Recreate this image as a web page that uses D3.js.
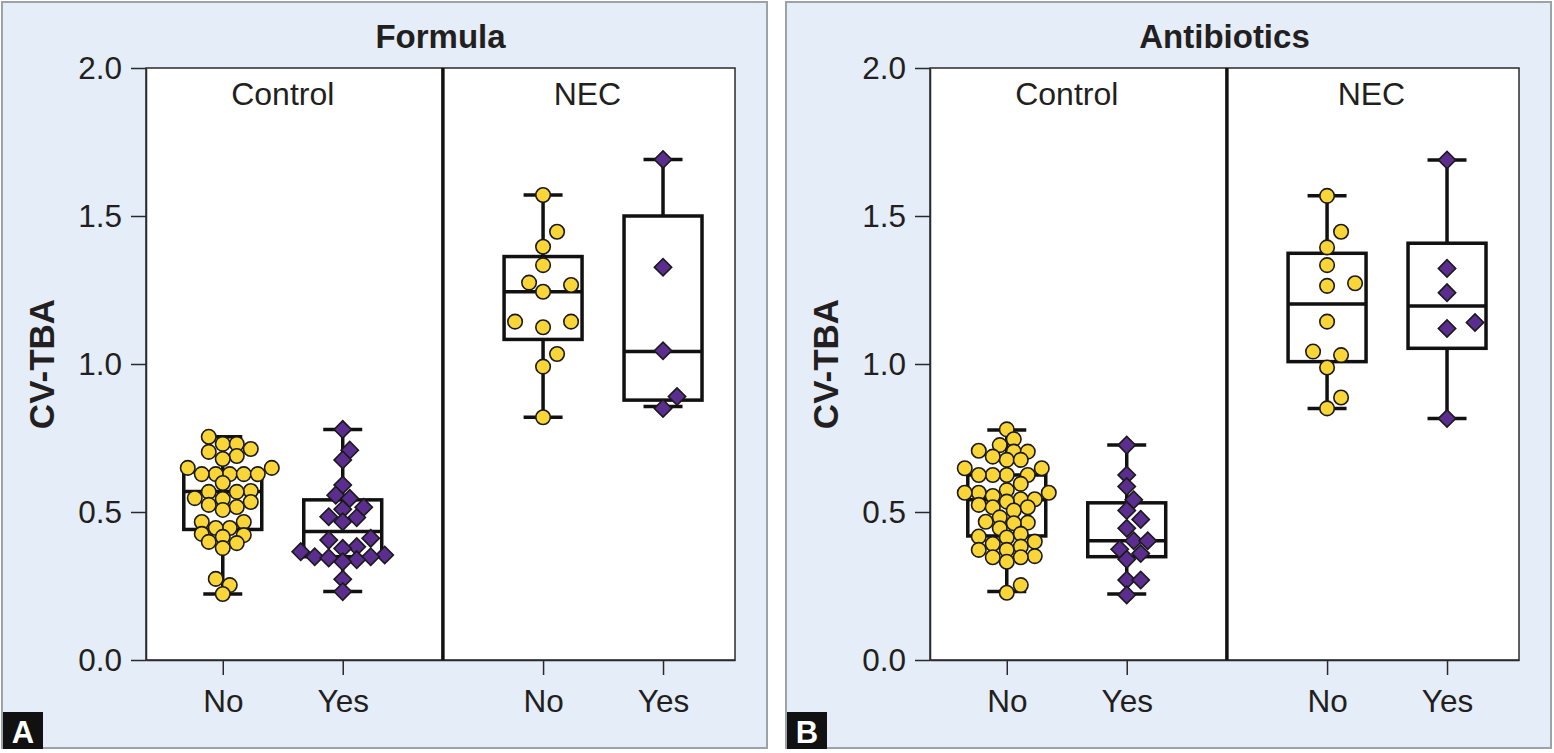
<!DOCTYPE html>
<html>
<head>
<meta charset="utf-8">
<script src="https://cdn.jsdelivr.net/npm/d3@7"></script>
<style>
  html, body { margin: 0; padding: 0; background: #ffffff; }
  svg { display: block; }
  text { font-family: "Liberation Sans", Arial, sans-serif; }
</style>
</head>
<body>
<svg id="chart" width="1554" height="753"></svg>
<script>
// ---------------- DATA ----------------
const panelTitles = ["Formula", "Antibiotics"];
const panelLetters = ["A", "B"];
const groups = ["Control", "NEC"];
const categories = ["No", "Yes", "No", "Yes"];
const yTicks = [0.0, 0.5, 1.0, 1.5, 2.0];
const yLabel = "CV-TBA";

// Panel A: Formula
const formulaControlNo = [0.754, 0.730, 0.730, 0.713, 0.703, 0.689, 0.679, 0.649, 0.649, 0.628, 0.628, 0.628, 0.628, 0.628,
  0.598, 0.571, 0.568, 0.568, 0.547, 0.544, 0.534, 0.524, 0.517, 0.507, 0.466, 0.466, 0.446, 0.446, 0.426, 0.422, 0.416,
  0.399, 0.395, 0.378, 0.274, 0.253, 0.223];
const formulaControlYes = [0.779, 0.709, 0.676, 0.591, 0.557, 0.546, 0.516, 0.509, 0.484, 0.481, 0.467, 0.411, 0.405,
  0.383, 0.377, 0.366, 0.355, 0.349, 0.349, 0.345, 0.339, 0.332, 0.273, 0.231];
const formulaNecNo = [1.571, 1.447, 1.396, 1.334, 1.275, 1.267, 1.244, 1.143, 1.143, 1.124, 1.034, 0.991, 0.820];
const formulaNecYes = [1.691, 1.327, 1.045, 0.890, 0.850];
// box stats: [min, q1, median, q3, max]
const formulaBoxes = [
  [0.223, 0.441, 0.569, 0.636, 0.754],
  [0.231, 0.349, 0.434, 0.541, 0.779],
  [0.820, 1.083, 1.244, 1.363, 1.571],
  [0.856, 0.878, 1.042, 1.500, 1.691]
];

// Panel B: Antibiotics
const antibioticsControlNo = [0.779, 0.746, 0.726, 0.707, 0.704, 0.704, 0.687, 0.676, 0.676, 0.648, 0.648, 0.625, 0.625,
  0.625, 0.625, 0.595, 0.574, 0.565, 0.565, 0.565, 0.554, 0.543, 0.543, 0.535, 0.524, 0.516, 0.516, 0.505, 0.482, 0.467,
  0.464, 0.462, 0.445, 0.426, 0.417, 0.414, 0.400, 0.392, 0.383, 0.372, 0.372, 0.351, 0.347, 0.347, 0.332, 0.253, 0.227];
const antibioticsControlYes = [0.726, 0.625, 0.586, 0.541, 0.505, 0.475, 0.445, 0.403, 0.403, 0.374, 0.360, 0.340,
  0.270, 0.270, 0.220];
const antibioticsNecNo = [1.568, 1.447, 1.394, 1.334, 1.273, 1.264, 1.143, 1.042, 1.030, 0.988, 0.887, 0.850];
const antibioticsNecYes = [1.689, 1.323, 1.241, 1.140, 1.120, 0.816];
const antibioticsBoxes = [
  [0.231, 0.419, 0.541, 0.625, 0.777],
  [0.223, 0.349, 0.403, 0.531, 0.726],
  [0.850, 1.008, 1.203, 1.374, 1.568],
  [0.816, 1.053, 1.196, 1.408, 1.689]
];

const panelSeries = [
  [formulaControlNo, formulaControlYes, formulaNecNo, formulaNecYes],
  [antibioticsControlNo, antibioticsControlYes, antibioticsNecNo, antibioticsNecYes]
];
const panelBoxes = [formulaBoxes, antibioticsBoxes];

// ---------------- LAYOUT / STYLE ----------------
const panelOffsets = [0, 784];
const plot = { left: 146, right: 735, top: 68, bottom: 660 };
const slotPos = [0.64, 1.64, 3.31, 4.31];   // category slots (domain units)
const dividerPos = 2.475;
const groupLabelPos = [1.14, 3.68];
const xDomainMax = 4.91;
const boxW = 0.65, capW = 0.325;
const markerFill = ["#f9d537", "#5b2d8e", "#f9d537", "#5b2d8e"];
const markerShape = ["circle", "diamond", "circle", "diamond"];
const swarmDist = [10.5, 11.5, 16, 16];
const swarmStep = [7, 7, 14, 14];
const panelBg = "#e5edf8", panelStroke = "#9da2a8";

const svg = d3.select("#chart");
const x = d3.scaleLinear().domain([0, xDomainMax]).range([plot.left, plot.right]);
const y = d3.scaleLinear().domain([0, 2]).range([plot.bottom, plot.top]);

function swarmOffsets(values, minDist, step) {
  const order = d3.range(values.length).sort((a, b) => values[a] - values[b]);
  const placed = [];
  const offs = new Array(values.length);
  const cands = [0];
  for (let j = 1; j < 60; j++) cands.push(j * step, -j * step);
  for (const i of order) {
    const yi = y(values[i]);
    let off = 0;
    for (const c of cands) {
      if (placed.every(p => Math.hypot(p.x - c, p.y - yi) >= minDist)) { off = c; break; }
    }
    placed.push({ x: off, y: yi });
    offs[i] = off;
  }
  return offs;
}

panelTitles.forEach((title, pi) => {
  const g = svg.append("g").attr("transform", `translate(${panelOffsets[pi]},0)`);

  g.append("rect").attr("x", 2).attr("y", 2).attr("width", 765).attr("height", 746)
    .attr("fill", panelBg).attr("stroke", panelStroke).attr("stroke-width", 2);

  // plot area
  g.append("rect").attr("x", plot.left).attr("y", plot.top)
    .attr("width", plot.right - plot.left).attr("height", plot.bottom - plot.top)
    .attr("fill", "#ffffff").attr("stroke", "#2a2a2a").attr("stroke-width", 1.5);

  // divider
  g.append("line").attr("x1", x(dividerPos)).attr("x2", x(dividerPos))
    .attr("y1", plot.top).attr("y2", plot.bottom)
    .attr("stroke", "#111").attr("stroke-width", 3.5);

  // axes
  const yAxis = d3.axisLeft(y).tickValues(yTicks).tickFormat(d3.format(".1f"))
    .tickSizeInner(15).tickSizeOuter(0).tickPadding(9);
  const ya = g.append("g").attr("transform", `translate(${plot.left},0)`).call(yAxis);
  ya.selectAll("text").attr("font-size", 31.5).attr("fill", "#231f20");
  ya.selectAll("line, path").attr("stroke", "#2a2a2a").attr("stroke-width", 1.5);

  const xAxis = d3.axisBottom(x).tickValues(slotPos).tickFormat((d, i) => categories[i])
    .tickSizeInner(15).tickSizeOuter(0).tickPadding(15);
  const xa = g.append("g").attr("transform", `translate(0,${plot.bottom})`).call(xAxis);
  xa.selectAll("text").attr("font-size", 31.5).attr("fill", "#231f20");
  xa.selectAll("line, path").attr("stroke", "#2a2a2a").attr("stroke-width", 1.5);

  // titles
  g.append("text").attr("x", (plot.left + plot.right) / 2).attr("y", 48)
    .attr("text-anchor", "middle").attr("font-weight", "bold").attr("font-size", 33)
    .attr("fill", "#231f20").text(title);
  groups.forEach((gr, gi) => {
    g.append("text").attr("x", x(groupLabelPos[gi])).attr("y", 105)
      .attr("text-anchor", "middle").attr("font-size", 32).attr("fill", "#231f20").text(gr);
  });
  g.append("text").attr("transform", `translate(54,${(plot.top + plot.bottom) / 2}) rotate(-90)`)
    .attr("text-anchor", "middle").attr("font-weight", "bold").attr("font-size", 35)
    .attr("fill", "#231f20").text(yLabel);

  // panel letter
  g.append("rect").attr("x", 3).attr("y", 712).attr("width", 40).attr("height", 37).attr("fill", "#111");
  g.append("text").attr("x", 23).attr("y", 743).attr("text-anchor", "middle")
    .attr("font-weight", "bold").attr("font-size", 31).attr("fill", "#fff").text(panelLetters[pi]);

  // boxes
  const unit = x(1) - x(0);
  panelBoxes[pi].forEach((b, ci) => {
    const cx = x(slotPos[ci]);
    const [mn, q1, md, q3, mx] = b;
    const bg = g.append("g").attr("stroke", "#111").attr("stroke-width", 3.5).attr("fill", "none");
    bg.append("line").attr("x1", cx).attr("x2", cx).attr("y1", y(q3)).attr("y2", y(mx));
    bg.append("line").attr("x1", cx).attr("x2", cx).attr("y1", y(q1)).attr("y2", y(mn));
    bg.append("line").attr("x1", cx - capW * unit / 2).attr("x2", cx + capW * unit / 2).attr("y1", y(mx)).attr("y2", y(mx));
    bg.append("line").attr("x1", cx - capW * unit / 2).attr("x2", cx + capW * unit / 2).attr("y1", y(mn)).attr("y2", y(mn));
    bg.append("rect").attr("x", cx - boxW * unit / 2).attr("y", y(q3))
      .attr("width", boxW * unit).attr("height", y(q1) - y(q3)).attr("fill", "#fff");
    bg.append("line").attr("x1", cx - boxW * unit / 2).attr("x2", cx + boxW * unit / 2).attr("y1", y(md)).attr("y2", y(md));
  });

  // points
  panelSeries[pi].forEach((vals, ci) => {
    const cx = x(slotPos[ci]);
    const isCircle = markerShape[ci] === "circle";
    const offs = swarmOffsets(vals, swarmDist[ci], swarmStep[ci]);
    const sym = d3.symbol().type(isCircle ? d3.symbolCircle : d3.symbolSquare).size(isCircle ? 165 : 150);
    g.append("g").selectAll("path").data(vals).join("path")
      .attr("d", sym)
      .attr("transform", (d, i) => `translate(${cx + offs[i]},${y(d)})` + (isCircle ? "" : " rotate(45)"))
      .attr("fill", markerFill[ci]).attr("stroke", "#1a1a1a").attr("stroke-width", 1.6);
  });
});
</script>
</body>
</html>
